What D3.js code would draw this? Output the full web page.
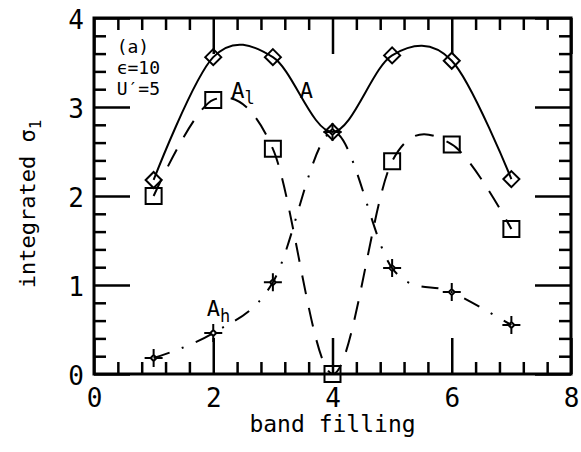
<!DOCTYPE html>
<html>
<head>
<meta charset="utf-8">
<script src="https://cdn.jsdelivr.net/npm/d3@7"></script>
<style>
  body { margin: 0; background: #fff; }
  text { font-family: "DejaVu Sans Mono", monospace; fill: #000; }
</style>
</head>
<body>
<div id="chart"></div>
<script>
// band filling values
const fillings = [1, 2, 3, 4, 5, 6, 7];
const seriesA = [2.18, 3.56, 3.56, 2.72, 3.58, 3.52, 2.19];
const seriesAl = [2.0, 3.08, 2.53, 0.0, 2.39, 2.58, 1.63];
const seriesAh = [0.18, 0.46, 1.03, 2.72, 1.19, 0.92, 0.55];
const xTicks = [0, 2, 4, 6, 8];
const yTicks = [0, 1, 2, 3, 4];

const width = 581, height = 452;
const margin = { top: 18, right: 10, bottom: 78, left: 94 };
const w = width - margin.left - margin.right;
const h = height - margin.top - margin.bottom;

const svg = d3.select('#chart').append('svg')
  .attr('width', width)
  .attr('height', height);

const g = svg.append('g')
  .attr('transform', 'translate(' + margin.left + ',' + margin.top + ')');

const x = d3.scaleLinear().domain([0, 8]).range([0, w]);
const y = d3.scaleLinear().domain([0, 4]).range([h, 0]);

// minor + major ticks, all pointing inward, on all four sides
const xMinor = d3.range(0, 8.001, 0.4).filter(v => Math.abs(v / 2 - Math.round(v / 2)) > 1e-6);
const yMinor = d3.range(0, 4.001, 0.2).filter(v => Math.abs(v - Math.round(v)) > 1e-6);

const tickStyle = sel => sel.attr('stroke', '#000').attr('stroke-width', 2.5);

g.append('g').attr('transform', 'translate(0,' + h + ')')
  .call(d3.axisBottom(x).tickValues(xTicks).tickSize(-36).tickFormat(d3.format('d')))
  .call(a => a.select('.domain').remove())
  .call(a => a.selectAll('line').call(tickStyle))
  .call(a => a.selectAll('text').attr('font-size', 26).attr('dy', null).attr('y', 33));

g.append('g').attr('transform', 'translate(0,' + h + ')')
  .call(d3.axisBottom(x).tickValues(xMinor).tickSize(-12).tickFormat(''))
  .call(a => a.select('.domain').remove())
  .call(a => a.selectAll('line').call(tickStyle));

g.append('g')
  .call(d3.axisTop(x).tickValues(xTicks).tickSize(-36).tickFormat(''))
  .call(a => a.select('.domain').remove())
  .call(a => a.selectAll('line').call(tickStyle));

g.append('g')
  .call(d3.axisTop(x).tickValues(xMinor).tickSize(-12).tickFormat(''))
  .call(a => a.select('.domain').remove())
  .call(a => a.selectAll('line').call(tickStyle));

g.append('g')
  .call(d3.axisLeft(y).tickValues(yTicks).tickSize(-36).tickPadding(10).tickFormat(d3.format('d')))
  .call(a => a.select('.domain').remove())
  .call(a => a.selectAll('line').call(tickStyle))
  .call(a => a.selectAll('text').attr('font-size', 26).attr('dy', '0.4em'));

g.append('g')
  .call(d3.axisLeft(y).tickValues(yMinor).tickSize(-12).tickFormat(''))
  .call(a => a.select('.domain').remove())
  .call(a => a.selectAll('line').call(tickStyle));

g.append('g').attr('transform', 'translate(' + w + ',0)')
  .call(d3.axisRight(y).tickValues(yTicks).tickSize(-36).tickFormat(''))
  .call(a => a.select('.domain').remove())
  .call(a => a.selectAll('line').call(tickStyle));

g.append('g').attr('transform', 'translate(' + w + ',0)')
  .call(d3.axisRight(y).tickValues(yMinor).tickSize(-12).tickFormat(''))
  .call(a => a.select('.domain').remove())
  .call(a => a.selectAll('line').call(tickStyle));

// frame
g.append('rect')
  .attr('width', w).attr('height', h)
  .attr('fill', 'none').attr('stroke', '#000').attr('stroke-width', 3);

// curves
const line = d3.line()
  .x((d, i) => x(fillings[i]))
  .y(d => y(d))
  .curve(d3.curveCardinal.tension(0));

g.append('path').datum(seriesA)
  .attr('d', line).attr('fill', 'none').attr('stroke', '#000').attr('stroke-width', 2);
g.append('path').datum(seriesAl)
  .attr('d', line).attr('fill', 'none').attr('stroke', '#000').attr('stroke-width', 2)
  .attr('stroke-dasharray', '19,14');
g.append('path').datum(seriesAh)
  .attr('d', line).attr('fill', 'none').attr('stroke', '#000').attr('stroke-width', 2)
  .attr('stroke-dasharray', '17,13,2,13');

// markers
const pt = (i, v) => 'translate(' + x(fillings[i]) + ',' + y(v) + ')';

g.selectAll('.diamond').data(seriesA).enter().append('path')
  .attr('class', 'diamond')
  .attr('transform', (d, i) => pt(i, d))
  .attr('d', 'M0,-8L8,0L0,8L-8,0Z')
  .attr('fill', 'none').attr('stroke', '#000').attr('stroke-width', 2);

g.selectAll('.square').data(seriesAl).enter().append('path')
  .attr('class', 'square')
  .attr('transform', (d, i) => pt(i, d))
  .attr('d', 'M-8,-8H8V8H-8Z')
  .attr('fill', 'none').attr('stroke', '#000').attr('stroke-width', 2);

g.selectAll('.star').data(seriesAh).enter().append('path')
  .attr('class', 'star')
  .attr('transform', (d, i) => pt(i, d))
  .attr('d', 'M-9,0H-3M3,0H9M0,-9V-3M0,3V9M0,-3L3,0L0,3L-3,0Z')
  .attr('fill', 'none').attr('stroke', '#000').attr('stroke-width', 2);

// annotations
const notes = [
  { t: '(a)', x: 0.38, y: 3.61 },
  { t: '\u03f5=10', x: 0.38, y: 3.37 },
  { t: 'U\u2032=5', x: 0.38, y: 3.13 }
];
g.selectAll('.note').data(notes).enter().append('text')
  .attr('x', d => x(d.x)).attr('y', d => y(d.y))
  .attr('font-size', 18)
  .text(d => d.t);

const lbl = (t, sub, lx, ly) => {
  const tx = g.append('text').attr('x', x(lx)).attr('y', y(ly)).attr('font-size', 22);
  tx.append('tspan').text(t);
  if (sub) tx.append('tspan').attr('dy', 6).attr('font-size', 17).text(sub);
};
lbl('A', 'l', 2.3, 3.1);
lbl('A', null, 3.45, 3.1);
lbl('A', 'h', 1.89, 0.65);

// axis titles
svg.append('text')
  .attr('x', margin.left + x(4)).attr('y', 432)
  .attr('text-anchor', 'middle').attr('font-size', 23)
  .text('band filling');

const yt = svg.append('text')
  .attr('transform', 'translate(35,' + (margin.top + y(2) + 8) + ') rotate(-90)')
  .attr('text-anchor', 'middle').attr('font-size', 22);
yt.append('tspan').text('integrated \u03c3');
yt.append('tspan').attr('dy', 6).attr('font-size', 16).text('1');
</script>
</body>
</html>
